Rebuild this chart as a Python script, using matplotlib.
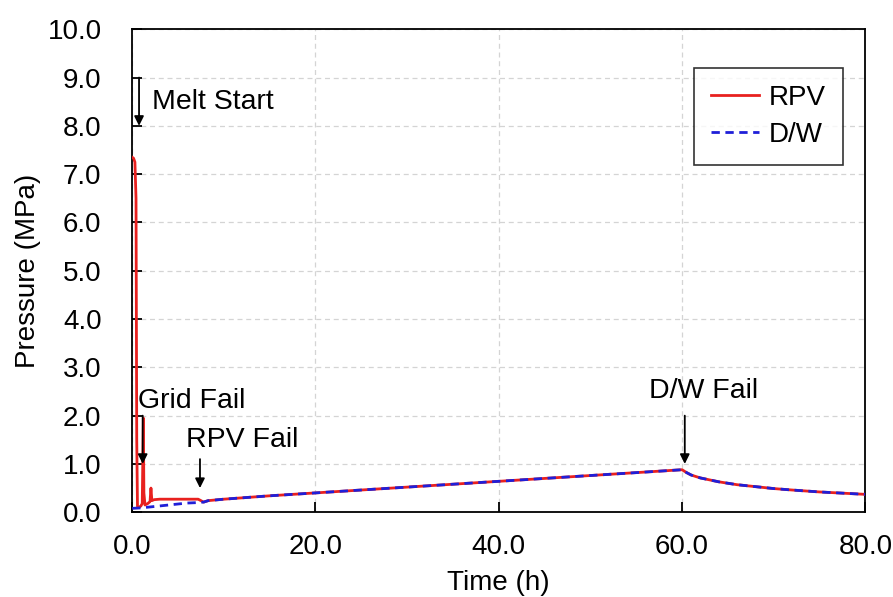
import matplotlib.pyplot as plt

plt.rcParams['font.family'] = ['Liberation Sans', 'DejaVu Sans']

# RPV pressure history (MPa) vs time (h)
rpv_time = [0.0, 0.15, 0.3, 0.42, 0.5, 0.58, 0.75, 0.95, 1.1, 1.17, 1.22, 1.28, 1.4, 1.7,
            1.95, 2.05, 2.15, 2.4, 3.0, 5.0, 7.2, 7.5, 7.8, 8.3, 10.0, 15.0, 20.0, 25.0,
            30.0, 35.0, 40.0, 45.0, 50.0, 55.0, 60.0, 60.5, 61.0, 62.0, 64.0, 66.0, 68.0,
            70.0, 72.0, 75.0, 78.0, 80.0]
rpv_pres = [7.35, 7.33, 7.25, 6.5, 1.5, 0.12, 0.1, 0.13, 0.18, 1.2, 1.95, 0.4, 0.15, 0.18,
            0.22, 0.5, 0.24, 0.26, 0.27, 0.27, 0.27, 0.24, 0.21, 0.24, 0.27, 0.34, 0.40, 0.46,
            0.52, 0.58, 0.64, 0.70, 0.76, 0.82, 0.88, 0.82, 0.77, 0.71, 0.63, 0.57, 0.53,
            0.49, 0.46, 0.42, 0.39, 0.37]

# Drywell pressure history (MPa) vs time (h)
dw_time = [0.0, 1.0, 2.0, 3.0, 4.0, 5.0, 6.0, 7.2, 7.8, 8.3, 10.0, 15.0, 20.0, 25.0,
           30.0, 35.0, 40.0, 45.0, 50.0, 55.0, 60.0, 60.5, 61.0, 62.0, 64.0, 66.0, 68.0,
           70.0, 72.0, 75.0, 78.0, 80.0]
dw_pres = [0.08, 0.09, 0.11, 0.13, 0.15, 0.17, 0.19, 0.2, 0.21, 0.24, 0.27, 0.34, 0.40, 0.46,
           0.52, 0.58, 0.64, 0.70, 0.76, 0.82, 0.88, 0.82, 0.77, 0.71, 0.63, 0.57, 0.53,
           0.49, 0.46, 0.42, 0.39, 0.37]

# event markers: label, arrow x, arrow top, arrow tip, text x, text y, alignment
events = [
    ('Melt Start', 0.75, 9.0, 8.0, 2.2, 8.5, 'left'),
    ('Grid Fail', 1.15, 2.0, 1.0, 0.6, 2.3, 'left'),
    ('RPV Fail', 7.4, 1.1, 0.5, 5.9, 1.5, 'left'),
    ('D/W Fail', 60.3, 2.0, 1.0, 62.4, 2.5, 'center'),
]

fig = plt.figure(figsize=(8.93, 5.97), dpi=100)
ax = fig.add_axes([0.148, 0.142, 0.821, 0.809])

ax.plot(rpv_time, rpv_pres, color='#e8211f', lw=2.0, label='RPV', zorder=3)
ax.plot(dw_time, dw_pres, color='#1f1fd8', lw=2.0, ls=(0, (3, 2)), label='D/W', zorder=4)

for label, x, top, tip, tx, ty, ha in events:
    ax.annotate('', xy=(x, tip), xytext=(x, top),
                arrowprops=dict(arrowstyle='-|>', color='black', lw=1.3,
                                mutation_scale=14, shrinkA=0, shrinkB=0), zorder=5)
    ax.text(tx, ty, label, fontsize=20.5, ha=ha, va='center', zorder=5)

ax.set_xlim(0, 80)
ax.set_ylim(0, 10)
ax.set_xticks([0, 20, 40, 60, 80])
ax.set_yticks([i for i in range(11)])
ax.set_xticklabels(['0.0', '20.0', '40.0', '60.0', '80.0'])
ax.set_yticklabels(['%.1f' % i for i in range(11)])
ax.tick_params(direction='in', length=7, width=1.3, labelsize=20)
ax.tick_params(axis='x', pad=16)
ax.tick_params(axis='y', pad=22)
ax.grid(True, color='#d4d4d4', ls='--', lw=0.9, dashes=(4, 3))
ax.set_axisbelow(True)
for s in ax.spines.values():
    s.set_linewidth(1.3)

ax.set_xlabel('Time (h)', fontsize=20, labelpad=7)
ax.set_ylabel('Pressure (MPa)', fontsize=20, labelpad=5)

leg = ax.legend(loc='upper right', bbox_to_anchor=(0.969, 0.919), fontsize=20,
                frameon=True, fancybox=False, edgecolor='black', handlelength=1.75,
                handletextpad=0.35, borderpad=0.6, labelspacing=0.4, borderaxespad=0)
leg.get_frame().set_linewidth(1.2)

fig.savefig('out.png', dpi=100)
